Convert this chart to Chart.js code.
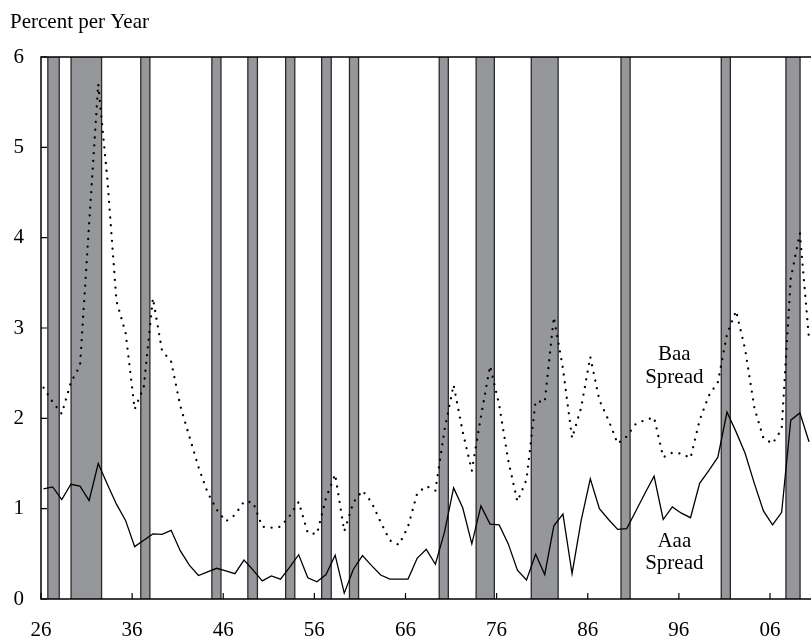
<!DOCTYPE html>
<html>
<head>
<meta charset="utf-8">
<title>Corporate Bond Spreads</title>
<script src="https://cdn.jsdelivr.net/npm/chart.js@4.4.1/dist/chart.umd.min.js"></script>
<style>
  html, body { margin: 0; padding: 0; background: #ffffff; }
  canvas { display: block; }
</style>
</head>
<body>
<canvas id="spreads" width="811" height="636"></canvas>
<script>
// Annual observations, 1926-2010
const firstYear = 1926;
const years = Array.from({ length: 85 }, (_, i) => firstYear + i);

// Baa corporate yield minus long-term Treasury yield (percent per year)
const baaSpread = [
  2.34, 2.18, 2.05, 2.40, 2.58, 4.15, 5.70, 4.65, 3.30, 2.95,
  2.10, 2.35, 3.33, 2.75, 2.63, 2.14, 1.80, 1.46, 1.18, 0.99,
  0.86, 0.93, 1.08, 1.07, 0.80, 0.79, 0.80, 0.92, 1.075, 0.73,
  0.72, 1.12, 1.38, 0.75, 1.07, 1.20, 1.07, 0.85, 0.65, 0.60,
  0.80, 1.17, 1.25, 1.20, 1.87, 2.37, 1.85, 1.42, 2.02, 2.58,
  2.15, 1.53, 1.08, 1.32, 2.19, 2.18, 3.12, 2.55, 1.78, 2.12,
  2.68, 2.20, 1.98, 1.72, 1.80, 1.94, 1.98, 2.01, 1.57, 1.62,
  1.61, 1.56, 1.98, 2.25, 2.40, 2.93, 3.19, 2.76, 2.12, 1.78,
  1.72, 1.88, 3.55, 4.05, 2.88
];

// Aaa corporate yield minus long-term Treasury yield (percent per year)
const aaaSpread = [
  1.22, 1.24, 1.10, 1.27, 1.25, 1.09, 1.50, 1.27, 1.05, 0.87,
  0.58, 0.65, 0.72, 0.715, 0.76, 0.535, 0.375, 0.26, 0.30, 0.34,
  0.31, 0.28, 0.43, 0.32, 0.20, 0.255, 0.22, 0.35, 0.49, 0.235,
  0.19, 0.27, 0.485, 0.065, 0.33, 0.48, 0.37, 0.265, 0.22, 0.22,
  0.22, 0.45, 0.55, 0.385, 0.74, 1.23, 1.01, 0.61, 1.03, 0.83,
  0.82, 0.61, 0.32, 0.21, 0.495, 0.27, 0.81, 0.94, 0.28, 0.87,
  1.33, 1.00, 0.88, 0.77, 0.78, 0.975, 1.17, 1.36, 0.88, 1.02,
  0.95, 0.90, 1.28, 1.42, 1.57, 2.07, 1.85, 1.61, 1.28, 0.975,
  0.82, 0.96, 1.98, 2.06, 1.74
];

// Recessions (start and end, in fractional years)
const recessionStart = [1926.75, 1929.3, 1936.95, 1944.75, 1948.7, 1952.85, 1956.8,
                        1959.85, 1969.7, 1973.75, 1979.8, 1989.65, 2000.65, 2007.75];
const recessionEnd   = [1928.0, 1932.65, 1937.95, 1945.75, 1949.75, 1953.85, 1957.85,
                        1960.85, 1970.7, 1975.75, 1982.75, 1990.65, 2001.65, 2009.3];

// Axis ticks
const tickYears  = [1926, 1936, 1946, 1956, 1966, 1976, 1986, 1996, 2006];
const tickLabels = ['26', '36', '46', '56', '66', '76', '86', '96', '06'];
const valueTicks = [0, 1, 2, 3, 4, 5, 6];

// Annual averages sit a little past the start of each year on the time axis
const withinYear = 0.28;
const toPoints = (values) => values.map((v, i) => ({ x: years[i] + withinYear, y: v }));

const serif = '"Liberation Serif", "Times New Roman", Times, serif';
const fontSize = 21;

const framePlugin = {
  id: 'frame',
  beforeDatasetsDraw(chart) {
    const { ctx, chartArea, scales: { x, y } } = chart;
    ctx.save();
    ctx.beginPath();
    ctx.rect(chartArea.left, chartArea.top, chartArea.right - chartArea.left, chartArea.bottom - chartArea.top);
    ctx.clip();
    recessionStart.forEach((s, i) => {
      const x0 = x.getPixelForValue(s);
      const x1 = x.getPixelForValue(recessionEnd[i]);
      const top = y.getPixelForValue(6);
      const bottom = y.getPixelForValue(0);
      ctx.fillStyle = 'rgb(150,151,155)';
      ctx.fillRect(x0, top, x1 - x0, bottom - top);
      ctx.strokeStyle = '#2a2a2a';
      ctx.lineWidth = 1.3;
      ctx.beginPath();
      ctx.moveTo(x0, top); ctx.lineTo(x0, bottom);
      ctx.moveTo(x1, top); ctx.lineTo(x1, bottom);
      ctx.stroke();
    });
    ctx.restore();
  },
  afterDatasetsDraw(chart) {
    const { ctx, chartArea, scales: { x, y } } = chart;
    ctx.save();
    ctx.strokeStyle = '#000000';
    ctx.lineWidth = 1.5;
    // top rule, left axis and bottom axis
    ctx.beginPath();
    ctx.moveTo(chartArea.right, chartArea.top);
    ctx.lineTo(chartArea.left, chartArea.top);
    ctx.lineTo(chartArea.left, chartArea.bottom);
    ctx.lineTo(chartArea.right, chartArea.bottom);
    ctx.stroke();
    // inward tick marks
    ctx.lineWidth = 1.2;
    ctx.beginPath();
    tickYears.forEach((t) => {
      const px = x.getPixelForValue(t);
      ctx.moveTo(px, chartArea.bottom);
      ctx.lineTo(px, chartArea.bottom - 6);
    });
    valueTicks.forEach((v) => {
      const py = y.getPixelForValue(v);
      ctx.moveTo(chartArea.left, py);
      ctx.lineTo(chartArea.left + 6, py);
    });
    ctx.stroke();

    // series labels
    ctx.fillStyle = '#000000';
    ctx.font = fontSize + 'px ' + serif;
    ctx.textAlign = 'center';
    ctx.textBaseline = 'alphabetic';
    const lx = x.getPixelForValue(1995.5);
    ctx.fillText('Baa', lx, y.getPixelForValue(2.65));
    ctx.fillText('Spread', lx, y.getPixelForValue(2.39));
    ctx.fillText('Aaa', lx, y.getPixelForValue(0.575));
    ctx.fillText('Spread', lx, y.getPixelForValue(0.335));

    // unit caption
    ctx.textAlign = 'left';
    ctx.fillText('Percent per Year', 10, 28);
    ctx.restore();
  }
};

new Chart(document.getElementById('spreads'), {
  type: 'line',
  data: {
    datasets: [
      {
        label: 'Baa Spread',
        data: toPoints(baaSpread),
        borderColor: '#000000',
        borderWidth: 2.3,
        borderDash: [0.01, 7.8],
        borderCapStyle: 'round',
        pointRadius: 0,
        tension: 0,
        fill: false
      },
      {
        label: 'Aaa Spread',
        data: toPoints(aaaSpread),
        borderColor: '#000000',
        borderWidth: 1.3,
        pointRadius: 0,
        tension: 0,
        fill: false
      }
    ]
  },
  options: {
    responsive: false,
    animation: false,
    devicePixelRatio: 1,
    layout: { padding: { top: 57, right: 0, bottom: 0, left: 0 } },
    plugins: { legend: { display: false }, tooltip: { enabled: false } },
    scales: {
      x: {
        type: 'linear',
        min: 1926,
        max: 2010.5,
        afterBuildTicks(scale) { scale.ticks = tickYears.map((v) => ({ value: v })); },
        afterFit(scale) { scale.height = 37; },
        grid: { display: false, drawTicks: false },
        border: { display: false },
        ticks: {
          padding: 19,
          color: '#000000',
          font: { family: serif, size: fontSize },
          maxRotation: 0,
          autoSkip: false,
          callback: (value, index) => tickLabels[index]
        }
      },
      y: {
        type: 'linear',
        min: 0,
        max: 6,
        afterBuildTicks(scale) { scale.ticks = valueTicks.map((v) => ({ value: v })); },
        afterFit(scale) { scale.width = 41; },
        grid: { display: false, drawTicks: false },
        border: { display: false },
        ticks: {
          padding: 17,
          color: '#000000',
          font: { family: serif, size: fontSize },
          callback: (value) => String(value)
        }
      }
    }
  },
  plugins: [framePlugin]
});
</script>
</body>
</html>
